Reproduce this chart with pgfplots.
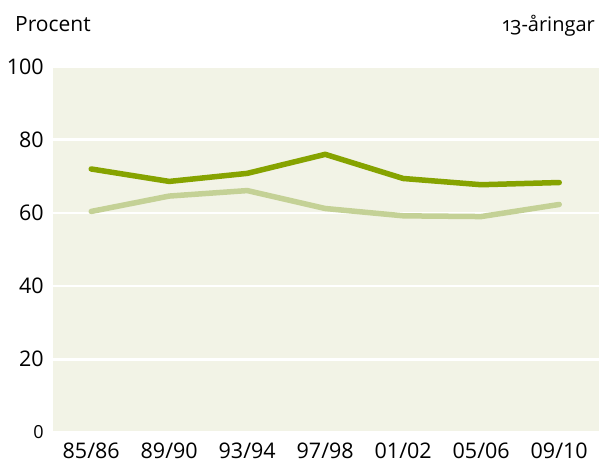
\documentclass[border=0pt]{standalone}
\usepackage{fontspec}
\setmainfont{Open Sans}
\newfontfamily\oldnum[Numbers=OldStyle]{Open Sans}
\usepackage{pgfplots}
\pgfplotsset{compat=1.18}
\definecolor{bgc}{HTML}{F2F3E6}
\definecolor{dark}{HTML}{86A300}
\definecolor{light}{HTML}{C4D196}
\begin{document}
\fontsize{21.5}{25}\selectfont
\begin{tikzpicture}[x=1pt,y=1pt]
\useasboundingbox (0,0) rectangle (599,471);
\begin{axis}[
  at={(53pt,38.5pt)}, anchor=south west,
  scale only axis, width=546pt, height=366pt,
  xmin=-0.49, xmax=6.51, ymin=0, ymax=100,
  xtick={0,...,6},
  xticklabels={85/86,89/90,93/94,97/98,01/02,05/06,09/10},
  ytick={0,20,40,60,80,100},
  yticklabels={{\fontsize{18}{20}\selectfont 0},20,40,60,80,100},
  axis line style={draw=none},
  major tick length=0pt,
  ymajorgrids, grid style={white, line width=2.5pt},
  axis background/.style={fill=bgc},
  tick label style={font=\fontsize{21.5}{25}\selectfont},
  /pgf/number format/assume math mode=true,
  yticklabel style={xshift=-2pt},
  xticklabel style={yshift=-3pt},
  clip=false,
]
\addplot[light, line width=5.5pt, line cap=round, line join=round] coordinates {
(0,60.4) (1,64.6) (2,66.1) (3,61.2) (4,59.2) (5,59.0) (6,62.3)};
\addplot[dark, line width=5.5pt, line cap=round, line join=round] coordinates {
(0,72.0) (1,68.6) (2,70.8) (3,76.0) (4,69.4) (5,67.7) (6,68.3)};
\end{axis}
\node[anchor=base west, inner sep=0pt, font=\fontsize{21}{25}\selectfont] at (15,439) {Procent};
\node[anchor=base east, inner sep=0pt, font=\fontsize{20}{24}\selectfont] at (595,439) {\oldnum 13-åringar};
\end{tikzpicture}
\end{document}
